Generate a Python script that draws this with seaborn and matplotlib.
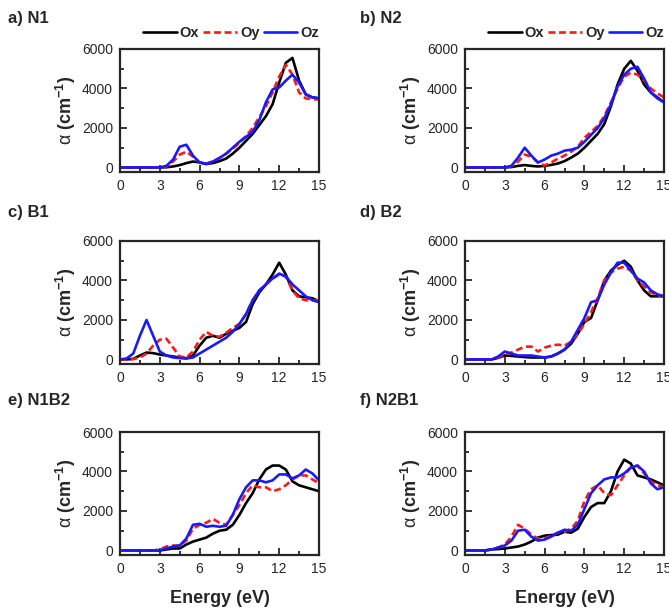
import numpy as np
import pandas as pd
import matplotlib
matplotlib.use("Agg")
import matplotlib.pyplot as plt
import seaborn as sns
from matplotlib.ticker import MultipleLocator

sns.set_style("ticks")
plt.rcParams['font.family'] = ['Liberation Sans', 'DejaVu Sans']
plt.rcParams['mathtext.fontset'] = 'custom'
plt.rcParams['mathtext.rm'] = 'Liberation Sans'
plt.rcParams['mathtext.bf'] = 'Liberation Sans:bold'
plt.rcParams['mathtext.it'] = 'Liberation Sans:italic'

# energy grid (eV), shared by every panel
energy = [0, 0.5, 1, 1.5, 2, 2.5, 3, 3.5, 4, 4.5, 5, 5.5, 6, 6.5, 7, 7.5,
          8, 8.5, 9, 9.5, 10, 10.5, 11, 11.5, 12, 12.5, 13, 13.5, 14, 14.5, 15]

# absorption coefficient (cm^-1)
n1_ox = [0, 0, 0, 0, 0, 0, 0, 10, 50, 120, 220, 300, 260, 180, 220, 320,
         450, 700, 1000, 1350, 1700, 2150, 2600, 3200, 4300, 5300, 5550, 4400, 3700, 3550, 3500]
n1_oy = [0, 0, 0, 0, 0, 0, 0, 50, 300, 650, 800, 550, 250, 200, 300, 480,
         700, 950, 1250, 1600, 2000, 2550, 3100, 3800, 4600, 5200, 4700, 3800, 3500, 3450, 3450]
n1_oz = [0, 0, 0, 0, 0, 0, 0, 80, 400, 1050, 1150, 600, 250, 170, 300, 480,
         700, 1000, 1300, 1550, 1800, 2400, 3300, 3950, 4050, 4400, 4700, 4300, 3700, 3550, 3500]

n2_ox = [0, 0, 0, 0, 0, 0, 0, 20, 80, 120, 80, 50, 80, 130, 200, 320,
         500, 700, 1000, 1350, 1700, 2200, 3100, 4200, 5000, 5400, 4900, 4200, 3800, 3550, 3300]
n2_oy = [0, 0, 0, 0, 0, 0, 0, 60, 300, 650, 550, 250, 100, 250, 450, 600,
         800, 1050, 1500, 1800, 2100, 2600, 3300, 4000, 4600, 4800, 4700, 4400, 4000, 3750, 3550]
n2_oz = [0, 0, 0, 0, 0, 0, 0, 80, 500, 1000, 600, 250, 400, 600, 700, 850,
         900, 1000, 1300, 1650, 2000, 2500, 3200, 4100, 4700, 5000, 5100, 4500, 3800, 3500, 3300]

b1_ox = [0, 0, 30, 200, 350, 320, 250, 200, 150, 100, 60, 200, 700, 1100, 1200, 1100,
         1300, 1450, 1600, 1900, 2800, 3400, 3800, 4300, 4900, 4300, 3500, 3200, 3150, 3100, 2950]
b1_oy = [0, 0, 20, 100, 300, 700, 1000, 1050, 600, 150, 100, 400, 1000, 1400, 1200, 1150,
         1350, 1600, 1800, 2300, 3000, 3500, 3800, 4100, 4300, 4200, 3500, 3100, 3000, 3000, 3000]
b1_oz = [0, 50, 300, 1200, 2000, 1200, 400, 200, 100, 70, 50, 100, 300, 500, 700, 900,
         1100, 1400, 1800, 2300, 3000, 3500, 3800, 4100, 4350, 4200, 3800, 3500, 3200, 3000, 2900]

b2_ox = [0, 0, 0, 0, 0, 80, 200, 180, 150, 120, 100, 100, 100, 150, 300, 500,
         800, 1300, 1900, 2100, 3000, 4000, 4500, 4800, 5000, 4700, 4000, 3500, 3200, 3200, 3200]
b2_oy = [0, 0, 0, 0, 0, 100, 250, 350, 500, 650, 650, 400, 600, 700, 750, 700,
         900, 1300, 1800, 2400, 3100, 4000, 4400, 4600, 4700, 4500, 4000, 3700, 3400, 3250, 3200]
b2_oz = [0, 0, 0, 0, 0, 150, 400, 300, 200, 200, 200, 150, 100, 150, 300, 500,
         900, 1500, 2100, 2900, 3000, 3800, 4400, 4900, 4900, 4500, 4100, 3900, 3500, 3300, 3200]

n1b2_ox = [0, 0, 0, 0, 0, 0, 0, 50, 100, 100, 300, 450, 550, 650, 850, 1000,
           1050, 1300, 1800, 2400, 2900, 3600, 4100, 4300, 4300, 4100, 3500, 3300, 3200, 3100, 3000]
n1b2_oy = [0, 0, 0, 0, 0, 0, 50, 200, 250, 250, 500, 1100, 1300, 1400, 1600, 1400,
           1300, 1800, 2300, 2900, 3300, 3200, 3200, 3000, 3100, 3300, 3600, 3800, 3800, 3600, 3400]
n1b2_oz = [0, 0, 0, 0, 0, 0, 0, 100, 200, 250, 600, 1300, 1350, 1200, 1250, 1200,
           1250, 1800, 2600, 3200, 3550, 3550, 3450, 3550, 3850, 3850, 3650, 3800, 4100, 3900, 3550]

n2b1_ox = [0, 0, 0, 0, 50, 70, 100, 150, 200, 300, 450, 650, 750, 780, 800, 950,
           900, 1100, 1700, 2200, 2400, 2400, 3000, 4000, 4600, 4400, 3800, 3700, 3600, 3450, 3300]
n2b1_oy = [0, 0, 0, 0, 50, 150, 300, 700, 1300, 1100, 800, 600, 600, 750, 900, 950,
           1100, 1500, 2500, 3100, 3300, 2900, 2800, 3300, 3800, 4200, 4300, 3900, 3500, 3300, 3200]
n2b1_oz = [0, 0, 0, 0, 50, 150, 250, 500, 1000, 1050, 700, 500, 550, 700, 900, 1050,
           1000, 1300, 2100, 2900, 3300, 3600, 3700, 3700, 3900, 4200, 4300, 4000, 3400, 3100, 3200]

panels = [
    ("a) N1", n1_ox, n1_oy, n1_oz),
    ("b) N2", n2_ox, n2_oy, n2_oz),
    ("c) B1", b1_ox, b1_oy, b1_oz),
    ("d) B2", b2_ox, b2_oy, b2_oz),
    ("e) N1B2", n1b2_ox, n1b2_oy, n1b2_oz),
    ("f) N2B1", n2b1_ox, n2b1_oy, n2b1_oz),
]

W, H = 669, 612
fig = plt.figure(figsize=(W / 100, H / 100), dpi=100)

# axes boxes in pixels: left, top, width, height
col_left = [120, 465]
row_top = [49, 241, 432]
aw, ah = 199, 123
title_y = [18, 213, 401]

lw = 1.9
for i, (name, ox, oy, oz) in enumerate(panels):
    r, c = divmod(i, 2)
    left, top = col_left[c], row_top[r]
    ax = fig.add_axes([left / W, 1 - (top + ah) / H, aw / W, ah / H])

    sns.lineplot(x=energy, y=ox, ax=ax, color='black', linewidth=lw, label='Ox')
    sns.lineplot(x=energy, y=oy, ax=ax, color='#ff1a1a', linewidth=lw,
                 linestyle=(0, (2.6, 1.4)), label='Oy')
    sns.lineplot(x=energy, y=oz, ax=ax, color='#1a1aff', linewidth=lw, label='Oz')

    ax.set_xlim(0, 15)
    ax.set_ylim(-230, 6000)
    ax.xaxis.set_major_locator(MultipleLocator(3))
    ax.xaxis.set_minor_locator(MultipleLocator(1.5))
    ax.yaxis.set_major_locator(MultipleLocator(2000))
    ax.yaxis.set_minor_locator(MultipleLocator(1000))
    ax.tick_params(which='both', direction='in', top=False, right=False,
                   labelsize=10, width=1.3, pad=5)
    ax.tick_params(which='major', length=5)
    ax.tick_params(which='minor', length=3)
    for sp in ax.spines.values():
        sp.set_linewidth(1.6)
        sp.set_visible(True)

    ax.set_ylabel(r'$\mathrm{\alpha}\ \mathbf{(cm^{-1})}$', fontsize=13, labelpad=3)
    if r == 2:
        ax.set_xlabel('Energy (eV)', fontsize=13, fontweight='bold', labelpad=10)
    else:
        ax.set_xlabel('')

    if r == 0:
        ax.legend(loc='center right', bbox_to_anchor=(1.0, 1.13), ncol=3,
                  frameon=False, handlelength=2.3, handletextpad=0.2,
                  columnspacing=0.3, borderaxespad=0, borderpad=0,
                  prop={'weight': 'bold', 'size': 10.5})
    else:
        ax.get_legend().remove()

    fig.text((8 if c == 0 else 360) / W, 1 - title_y[r] / H, name,
             fontsize=12, fontweight='bold', va='center', ha='left')

fig.savefig('out.png', dpi=100)
